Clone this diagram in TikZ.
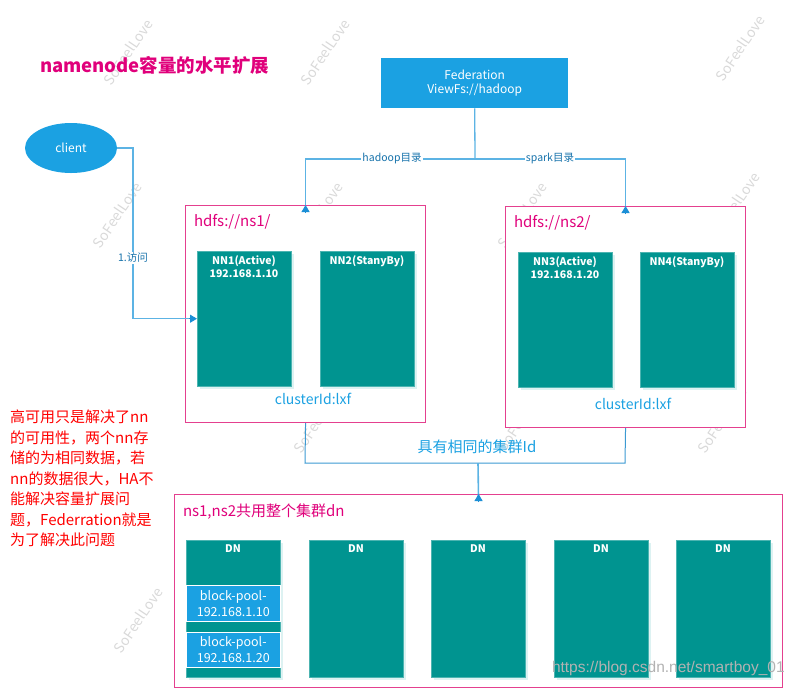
\documentclass[tikz,border=0pt]{standalone}
\usepackage{fontspec}
\setmainfont{Noto Sans CJK SC}
\newfontfamily\urlfont{Liberation Sans}
\usetikzlibrary{arrows.meta,shapes.geometric}
\definecolor{vblue}{HTML}{1BA1E2}
\definecolor{tealb}{HTML}{009490}
\definecolor{shad}{HTML}{DDF2F2}
\definecolor{pinkb}{HTML}{E4408F}
\definecolor{mag}{HTML}{E0007B}
\definecolor{lnblue}{HTML}{5CB3E4}
\definecolor{arblue}{HTML}{1B8FD6}
\definecolor{brblue}{HTML}{3C9AD2}
\newcommand{\fsz}[1]{\fontsize{#1}{#1}\selectfont}
\tikzset{
  txt/.style={inner sep=0pt, outer sep=0pt},
  wm/.style={txt, rotate=56, text=black!15, font=\fsz{14}},
  nsbox/.style={draw=pinkb, line width=1.1pt, fill=white, anchor=north west, inner sep=0pt},
  nnbox/.style={fill=tealb, draw=tealb!70!white, line width=0.4pt, anchor=north west, inner sep=0pt},
  nnshadow/.style={fill=shad, anchor=north west, inner sep=0pt},
  bpbox/.style={fill=vblue, draw=white, line width=0.6pt, anchor=north west, inner sep=0pt},
  nntext/.style={txt, text=white, font=\bfseries\fsz{10.5}, align=center},
  conn/.style={draw=lnblue, line width=1.3pt},
  tip/.style={-{Triangle[width=8pt,length=7pt]}, arblue},
  lbl/.style={txt, fill=white, inner xsep=1pt, inner ysep=1pt, text=arblue!80!black, font=\fsz{10.5}},
}
\begin{document}
\begin{tikzpicture}[x=1pt,y=-1pt]
\useasboundingbox (0,0) rectangle (794,689);
% watermarks (only the visible ones)
\foreach \wx/\wy in {128/52,325/52,740/48,
                     117/215,318/215,522/215,735/205,
                     318/420,522/418,722/420,
                     138/620} {
  \node[wm] (wm-\wx-\wy) at (\wx,\wy) {SoFeelLove};
}
% title
\node[txt, anchor=west, text=mag, font=\bfseries\fsz{18.5}] (title) at (40,65) {namenode容量的水平扩展};
% federation
\node[fill=vblue, anchor=north west, minimum width=187pt, minimum height=50pt, inner sep=0pt,
      text=white, font=\fsz{12}, align=center] (fed) at (381,58) {Federation\\[2pt]ViewFs://hadoop};
% client
\node[ellipse, fill=vblue, minimum width=92pt, minimum height=50pt, inner sep=0pt,
      text=white, font=\fsz{12}] (client) at (71,148) {client};
% ns1 box
\node[nsbox, minimum width=240pt, minimum height=217pt] (ns1) at (185,205) {};
\node[txt, anchor=west, text=mag, font=\fsz{15}] (ns1t) at (194,222) {hdfs://ns1/};
\node[nnshadow, minimum width=94pt, minimum height=135pt] (nn1s) at (200,254) {};
\node[nnshadow, minimum width=94pt, minimum height=135pt] (nn2s) at (323,254) {};
\node[nnbox, minimum width=94pt, minimum height=135pt] (nn1) at (197,251) {};
\node[nnbox, minimum width=94pt, minimum height=135pt] (nn2) at (320,251) {};
\node[nntext, anchor=north] (nn1t) at (244,256) {NN1(Active)\\[1.8pt]192.168.1.10};
\node[nntext, anchor=north] (nn2t) at (367,256) {NN2(StanyBy)};
\node[txt, text=vblue, font=\fsz{14}] (cid1) at (313,399) {clusterId:lxf};
% ns2 box
\node[nsbox, minimum width=240pt, minimum height=221pt] (ns2) at (505,206) {};
\node[txt, anchor=west, text=mag, font=\fsz{15}] (ns2t) at (514,223) {hdfs://ns2/};
\node[nnshadow, minimum width=94pt, minimum height=135pt] (nn3s) at (521,255) {};
\node[nnshadow, minimum width=94pt, minimum height=135pt] (nn4s) at (643,255) {};
\node[nnbox, minimum width=94pt, minimum height=135pt] (nn3) at (518,252) {};
\node[nnbox, minimum width=94pt, minimum height=135pt] (nn4) at (640,252) {};
\node[nntext, anchor=north] (nn3t) at (565,257) {NN3(Active)\\[1.8pt]192.168.1.20};
\node[nntext, anchor=north] (nn4t) at (687,257) {NN4(StanyBy)};
\node[txt, text=vblue, font=\fsz{14}] (cid2) at (633,404) {clusterId:lxf};
% DN big box
\node[nsbox, minimum width=608pt, minimum height=193pt] (dn) at (174,494) {};
\node[txt, anchor=west, text=mag, font=\fsz{15}] (dnt) at (183,512) {ns1,ns2共用整个集群dn};
\foreach \i/\dx in {1/186,2/309,3/431,4/554,5/676} {
  \node[nnshadow, minimum width=94pt, minimum height=137pt] (dn\i s) at (\dx+3,543) {};
  \node[nnbox, minimum width=94pt, minimum height=137pt] (dn\i) at (\dx,540) {};
  \node[nntext, anchor=north] (dn\i t) at (\dx+47,545) {DN};
}
\node[bpbox, minimum width=94pt, minimum height=36pt, text=white, font=\fsz{12.5}, align=center] (bp1) at (186,585) {block-pool-\\[3.5pt]192.168.1.10};
\node[bpbox, minimum width=94pt, minimum height=35pt, text=white, font=\fsz{12.5}, align=center] (bp2) at (186,632) {block-pool-\\[3.5pt]192.168.1.20};
% connectors from federation
\coordinate (fj) at (475,159);
\draw[conn] (fed.south) -- (fj);
\draw[conn] (fj) -- (fj -| ns1.north) -- ([yshift=-7pt]ns1.north);
\draw[conn] (fj) -- (fj -| ns2.north) -- ([yshift=-7pt]ns2.north);
\draw[tip, line width=1pt] ([yshift=-8pt]ns1.north) -- (ns1.north);
\draw[tip, line width=1pt] ([yshift=-8pt]ns2.north) -- (ns2.north);
\node[lbl] (lh) at (392,159) {hadoop目录};
\node[lbl] (ls) at (550,159) {spark目录};
% client connector
\coordinate (cj) at (133,148);
\draw[conn] (client.east) -- (cj) -- (cj |- nn1.west) -- ([xshift=-7pt]nn1.west);
\draw[tip, line width=1pt] ([xshift=-8pt]nn1.west) -- (nn1.west);
\node[lbl] (lc) at (133,258) {1.访问};
% same cluster id bracket
\coordinate (bl) at (305,463);
\coordinate (br) at (625,463);
\draw[draw=brblue, line width=1pt] (ns1.south) -- (bl) -- (br) -- (ns2.south);
\node[txt, text=vblue, font=\fsz{15}] (same) at (477,447) {具有相同的集群Id};
\coordinate (bm) at (478,463);
\draw[conn, line width=1.6pt] (bm) -- ([yshift=-7pt]dn.north);
\draw[tip, line width=1pt] ([yshift=-8pt]dn.north) -- (dn.north);
% red note
\node[anchor=north west, fill=white, inner xsep=2pt, inner ysep=1pt, text=red,
      font=\fontsize{15}{20.5}\selectfont, align=left] (note) at (8,409)
 {高可用只是解决了nn\\的可用性，两个nn存\\储的为相同数据，若\\nn的数据很大，HA不\\能解决容量扩展问\\题，Federration就是\\为了解决此问题};
% url watermark
\node[txt, anchor=west, text=black!30, font=\urlfont\fsz{15.5}] (url) at (552,668) {https://blog.csdn.net/smartboy\_01};
\end{tikzpicture}
\end{document}
